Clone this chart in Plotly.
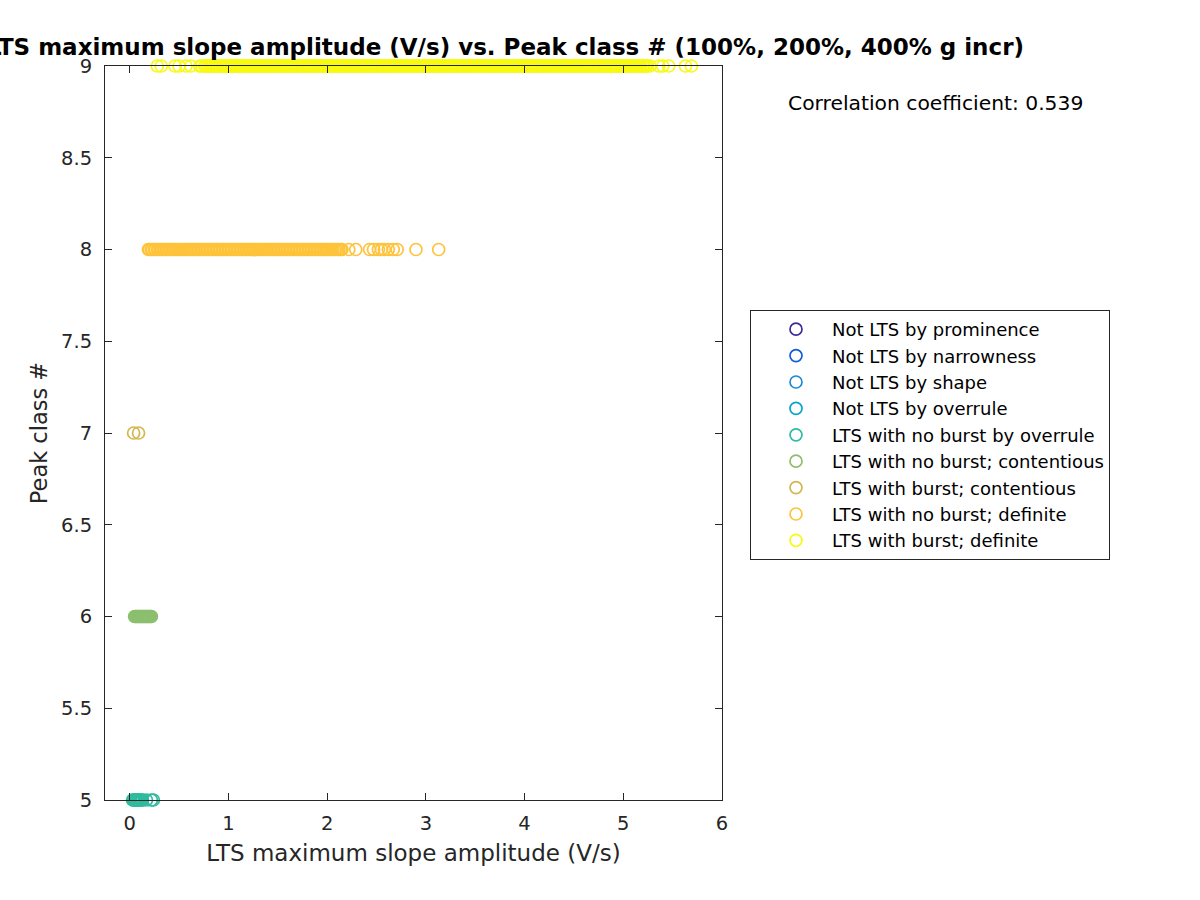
import plotly.graph_objects as go

# ---------------- data ----------------
class_names = [
    "Not LTS by prominence",
    "Not LTS by narrowness",
    "Not LTS by shape",
    "Not LTS by overrule",
    "LTS with no burst by overrule",
    "LTS with no burst; contentious",
    "LTS with burst; contentious",
    "LTS with no burst; definite",
    "LTS with burst; definite",
]
class_numbers = [1, 2, 3, 4, 5, 6, 7, 8, 9]
class_colors = [
    "#3e2a98", "#0f5ddb", "#1d8ad8", "#08a6c6", "#2fbb9e",
    "#8cbf6e", "#d3b74e", "#fec33a", "#f8fa10",
]

x_class1 = []
x_class2 = []
x_class3 = []
x_class4 = []
x_class5 = [0.03, 0.04, 0.05, 0.06, 0.07, 0.08, 0.09, 0.10, 0.11, 0.12, 0.13,
            0.17, 0.22, 0.24]
x_class6 = [0.05, 0.06, 0.07, 0.08, 0.09, 0.10, 0.11, 0.12, 0.13, 0.14, 0.15,
            0.16, 0.17, 0.18, 0.19, 0.20, 0.21, 0.22]
x_class7 = [0.04, 0.09]
x_class8 = [
    0.19, 0.20, 0.22, 0.23, 0.25, 0.26, 0.28, 0.29, 0.31, 0.32, 0.34, 0.35, 0.37, 0.38, 0.40, 0.41, 0.43, 0.44, 0.46, 0.47,
    0.49, 0.50, 0.52, 0.53, 0.55, 0.56, 0.58, 0.59, 0.61, 0.62, 0.64, 0.65, 0.67, 0.68, 0.70, 0.71, 0.73, 0.74, 0.76, 0.77,
    0.79, 0.80, 0.82, 0.83, 0.85, 0.86, 0.88, 0.89, 0.91, 0.92, 0.94, 0.95, 0.97, 0.98, 1.00, 1.01, 1.03, 1.04, 1.06, 1.07,
    1.09, 1.10, 1.12, 1.13, 1.15, 1.16, 1.18, 1.19, 1.21, 1.22, 1.24, 1.25, 1.27, 1.28, 1.30, 1.31, 1.33, 1.34, 1.36, 1.37,
    1.39, 1.40, 1.42, 1.43, 1.45, 1.46, 1.48, 1.49, 1.51, 1.52, 1.54, 1.55, 1.57, 1.58, 1.60, 1.61, 1.63, 1.64, 1.66, 1.67,
    1.69, 1.70, 1.72, 1.73, 1.75, 1.76, 1.78, 1.79, 1.81, 1.82, 1.84, 1.85, 1.87, 1.88, 1.90, 1.91, 1.93, 1.94, 1.96, 1.97,
    1.99, 2.00, 2.02, 2.03, 2.05, 2.06, 2.08, 2.09, 2.11, 2.12, 2.14, 2.15,
    2.22, 2.29, 2.43, 2.47, 2.52, 2.55, 2.58, 2.62, 2.67, 2.71, 2.90, 3.13,
]
x_class9 = [
    0.28, 0.32, 0.46, 0.50, 0.57, 0.62, 0.71, 0.73,
    0.76, 0.77, 0.79, 0.80, 0.82, 0.83, 0.85, 0.86, 0.88, 0.89, 0.91, 0.92, 0.94, 0.95, 0.97, 0.98, 1.00, 1.01, 1.03, 1.04,
    1.06, 1.07, 1.09, 1.10, 1.12, 1.13, 1.15, 1.16, 1.18, 1.19, 1.21, 1.22, 1.24, 1.25, 1.27, 1.28, 1.30, 1.31, 1.33, 1.34,
    1.36, 1.37, 1.39, 1.40, 1.42, 1.43, 1.45, 1.46, 1.48, 1.49, 1.51, 1.52, 1.54, 1.55, 1.57, 1.58, 1.60, 1.61, 1.63, 1.64,
    1.66, 1.67, 1.69, 1.70, 1.72, 1.73, 1.75, 1.76, 1.78, 1.79, 1.81, 1.82, 1.84, 1.85, 1.87, 1.88, 1.90, 1.91, 1.93, 1.94,
    1.96, 1.97, 1.99, 2.00, 2.02, 2.03, 2.05, 2.06, 2.08, 2.09, 2.11, 2.12, 2.14, 2.15, 2.17, 2.18, 2.20, 2.21, 2.23, 2.24,
    2.26, 2.27, 2.29, 2.30, 2.32, 2.33, 2.35, 2.36, 2.38, 2.39, 2.41, 2.42, 2.44, 2.45, 2.47, 2.48, 2.50, 2.51, 2.53, 2.54,
    2.56, 2.57, 2.59, 2.60, 2.62, 2.63, 2.65, 2.66, 2.68, 2.69, 2.71, 2.72, 2.74, 2.75, 2.77, 2.78, 2.80, 2.81, 2.83, 2.84,
    2.86, 2.87, 2.89, 2.90, 2.92, 2.93, 2.95, 2.96, 2.98, 2.99, 3.01, 3.02, 3.04, 3.05, 3.07, 3.08, 3.10, 3.11, 3.13, 3.14,
    3.16, 3.17, 3.19, 3.20, 3.22, 3.23, 3.25, 3.26, 3.28, 3.29, 3.31, 3.32, 3.34, 3.35, 3.37, 3.38, 3.40, 3.41, 3.43, 3.44,
    3.46, 3.47, 3.49, 3.50, 3.52, 3.53, 3.55, 3.56, 3.58, 3.59, 3.61, 3.62, 3.64, 3.65, 3.67, 3.68, 3.70, 3.71, 3.73, 3.74,
    3.76, 3.77, 3.79, 3.80, 3.82, 3.83, 3.85, 3.86, 3.88, 3.89, 3.91, 3.92, 3.94, 3.95, 3.97, 3.98, 4.00, 4.01, 4.03, 4.04,
    4.06, 4.07, 4.09, 4.10, 4.12, 4.13, 4.15, 4.16, 4.18, 4.19, 4.21, 4.22, 4.24, 4.25, 4.27, 4.28, 4.30, 4.31, 4.33, 4.34,
    4.36, 4.37, 4.39, 4.40, 4.42, 4.43, 4.45, 4.46, 4.48, 4.49, 4.51, 4.52, 4.54, 4.55, 4.57, 4.58, 4.60, 4.61, 4.63, 4.64,
    4.66, 4.67, 4.69, 4.70, 4.72, 4.73, 4.75, 4.76, 4.78, 4.79, 4.81, 4.82, 4.84, 4.85, 4.87, 4.88, 4.90, 4.91, 4.93, 4.94,
    4.96, 4.97, 4.99, 5.00, 5.02, 5.03, 5.05, 5.06, 5.08, 5.09, 5.11, 5.12, 5.14, 5.15, 5.17, 5.18, 5.20, 5.21, 5.23, 5.24,
    5.27, 5.36, 5.40, 5.46, 5.63, 5.69,
]
x_by_class = [x_class1, x_class2, x_class3, x_class4, x_class5,
              x_class6, x_class7, x_class8, x_class9]

x_tick_vals = [0, 1, 2, 3, 4, 5, 6]
x_tick_text = ["0", "1", "2", "3", "4", "5", "6"]
y_tick_vals = [5, 5.5, 6, 6.5, 7, 7.5, 8, 8.5, 9]
y_tick_text = ["5", "5.5", "6", "6.5", "7", "7.5", "8", "8.5", "9"]

title_text = "LTS maximum slope amplitude (V/s) vs. Peak class # (100%, 200%, 400% g incr)"
x_label = "LTS maximum slope amplitude (V/s)"
y_label = "Peak class #"
corr_text = "Correlation coefficient: 0.539"

# ---------------- figure ----------------
FONT = "DejaVu Sans, Verdana, sans-serif"
AX = "#262626"

fig = go.Figure()
for name, num, col, xs in zip(class_names, class_numbers, class_colors, x_by_class):
    if xs:
        xv, yv = xs, [num] * len(xs)
    else:
        xv, yv = [None], [None]
    fig.add_trace(go.Scatter(
        x=xv, y=yv, mode="markers", name=name, cliponaxis=False,
        marker=dict(symbol="circle-open", size=12, color=col,
                    line=dict(width=1.7, color=col)),
    ))

fig.update_layout(
    width=1200, height=900,
    margin=dict(l=105, r=478, t=66, b=100),
    paper_bgcolor="white", plot_bgcolor="white",
    font=dict(family=FONT, color=AX),
    title=dict(text="<b>" + title_text + "</b>", xref="container", yref="container",
               x=1024 / 1200, xanchor="right", y=1 - 47 / 900, yanchor="middle",
               font=dict(size=23, color="black", family=FONT)),
    showlegend=True,
    legend=dict(x=(750 - 105) / 617, y=(800 - 310) / 734, xanchor="left", yanchor="top",
                bgcolor="white", bordercolor=AX, borderwidth=1,
                font=dict(size=18, color="black", family=FONT),
                itemwidth=62, indentation=9),
    annotations=[dict(text=corr_text, xref="paper", yref="paper",
                      x=(935 - 105) / 617, y=(800 - 103) / 734,
                      xanchor="center", yanchor="middle", showarrow=False,
                      font=dict(size=20.3, color="black", family=FONT))],
)
fig.update_xaxes(range=[-0.25, 6], tickvals=x_tick_vals, ticktext=x_tick_text,
                 ticks="inside", ticklen=7, tickcolor=AX, showline=True, linecolor=AX,
                 linewidth=1, mirror="ticks", showgrid=False, zeroline=False,
                 tickfont=dict(size=19.5, color=AX), ticklabelstandoff=6,
                 title=dict(text=x_label, font=dict(size=23, color=AX), standoff=10))
fig.update_yaxes(range=[5, 9], tickvals=y_tick_vals, ticktext=y_tick_text,
                 ticks="inside", ticklen=7, tickcolor=AX, showline=True, linecolor=AX,
                 linewidth=1, mirror="ticks", showgrid=False, zeroline=False,
                 tickfont=dict(size=19.5, color=AX), ticklabelstandoff=8,
                 title=dict(text=y_label, font=dict(size=22.5, color=AX), standoff=7))

fig.write_html("out.html")
